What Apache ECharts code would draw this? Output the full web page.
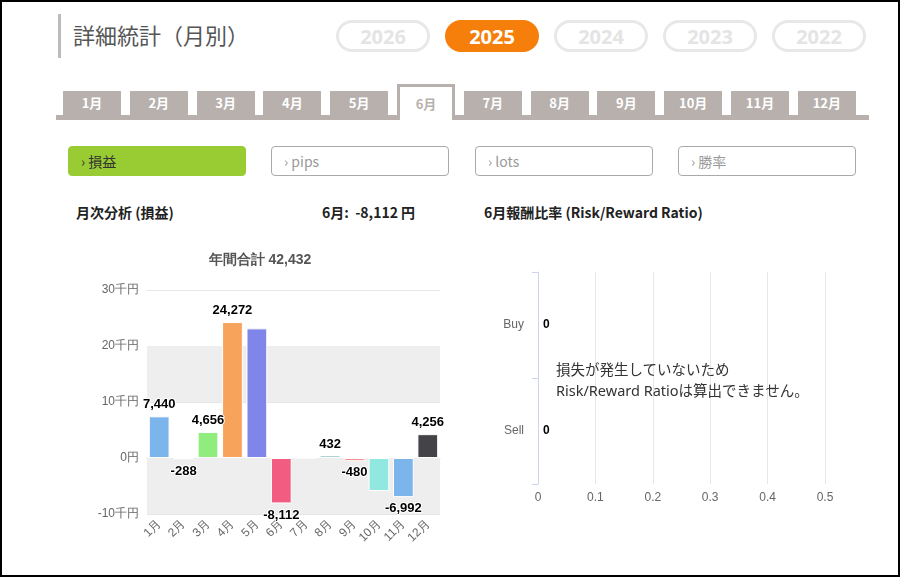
<!DOCTYPE html>
<html><head><meta charset="utf-8">
<script src="https://cdn.jsdelivr.net/npm/echarts@6/dist/echarts.min.js"></script>
<style>
body{margin:0;width:900px;height:577px;overflow:hidden;font-family:"Noto Sans CJK JP","Noto Sans",sans-serif;background:#fff}
#frame{position:absolute;left:0;top:0;width:896px;height:573px;border:2px solid #000}
.abs{position:absolute}
#title{left:58px;top:14px;height:44px;border-left:3px solid #bbb;padding-left:12px;font-size:22px;color:#555;line-height:40px}
.yr{position:absolute;top:20px;width:94px;height:32px;border:3px solid #e8e8e8;border-radius:18px;box-sizing:border-box;text-align:center;font:bold 20px/27px "Open Sans",sans-serif;color:#e4e4e4}
.yr.on{background:#f57f0a;border-color:#f57f0a;color:#fff}
.tab{position:absolute;top:91px;width:58px;height:24px;background:#b8b0ad;color:#fff;text-align:center;font-size:13px;line-height:24px;font-weight:bold}
.tab.on{background:#fff;color:#b8b0ad;top:84px;height:36px;border:3px solid #b8b0ad;border-bottom:none;box-sizing:border-box;line-height:34px}
.btn{position:absolute;top:146px;width:178px;height:30px;border:1px solid #aaa;border-radius:4px;box-sizing:border-box;font-size:14px;line-height:28px;color:#999;padding-left:12px}
.btn.on{background:#99cc33;border-color:#99cc33;color:#333}
.lbl{position:absolute;top:202px;font-size:14px;font-weight:bold;color:#222}
</style></head><body>
<div id="frame"></div>
<div id="title" class="abs">詳細統計（月別）</div>
<div id="years"></div>
<div class="abs" style="left:56px;top:115px;width:813px;height:5px;background:#b8b0ad"></div>
<div id="tabs"></div>
<div class="btn on" style="left:68px">› 損益</div>
<div class="btn" style="left:271px">› pips</div>
<div class="btn" style="left:475px">› lots</div>
<div class="btn" style="left:678px">› 勝率</div>
<div class="lbl" style="left:76px">月次分析 (損益)</div>
<div class="lbl" style="left:322px">6月:&nbsp; -8,112 円</div>
<div class="lbl" style="left:484px">6月報酬比率 (Risk/Reward Ratio)</div>
<div id="pl" class="abs" style="left:60px;top:240px;width:400px;height:330px"></div>
<div id="rr" class="abs" style="left:470px;top:240px;width:400px;height:290px"></div>
<div class="abs" style="left:556px;top:359px;font-size:14.5px;color:#333;line-height:21px;font-family:'Noto Sans','Noto Sans CJK JP',sans-serif">損失が発生していないため<br>Risk/Reward Ratioは算出できません。</div>
<script>
const years = ['2026', '2025', '2024', '2023', '2022'];
document.getElementById('years').innerHTML = years.map((y, i) =>
    `<div class="yr${y === '2025' ? ' on' : ''}" style="left:${336 + i * 109}px">${y}</div>`).join('');
const months = ['1月', '2月', '3月', '4月', '5月', '6月', '7月', '8月', '9月', '10月', '11月', '12月'];
document.getElementById('tabs').innerHTML = months.map((m, i) =>
    `<div class="tab${i === 5 ? ' on' : ''}" style="left:${63 + i * 66.8}px">${m}</div>`).join('');

const colors = ['#7cb5ec', '#434348', '#90ed7d', '#f7a35c', '#8085e9', '#f15c80',
    '#e4d354', '#2b908f', '#f45b5b', '#91e8e1', '#7cb5ec', '#434348'];
const profits = [7440, -288, 4656, 24272, 23152, -8112, 0, 432, -480, -5904, -6992, 4256];
const showLabel = [true, true, true, true, false, true, false, true, true, false, true, true];

const fmt = (v) => v.toLocaleString('en-US');
const pl = echarts.init(document.getElementById('pl'));
pl.setOption({
    animation: false,
    title: { text: '年間合計 42,432', left: 'center', top: 8, textStyle: { fontSize: 14, color: '#555', fontWeight: 'bold' } },
    grid: { left: 87, right: 20, top: 50, bottom: 56 },
    xAxis: {
        type: 'category', data: months,
        axisLine: { lineStyle: { color: '#ccd6eb' } }, axisTick: { show: false },
        axisLabel: { rotate: 45, color: '#666', fontSize: 12, interval: 0 },
    },
    yAxis: {
        type: 'value', min: -10000, max: 30000, interval: 10000,
        axisLabel: { color: '#666', fontSize: 12, formatter: (v) => (v === 0 ? '0円' : v / 1000 + '千円') },
        splitLine: { lineStyle: { color: '#e6e6e6' } },
    },
    series: [{
        type: 'bar', barWidth: '85%',
        data: profits.map((v, i) => ({
            value: v,
            itemStyle: { color: colors[i], borderColor: '#fff', borderWidth: 1 },
            label: {
                show: showLabel[i], position: v < 0 ? 'bottom' : 'top',
                formatter: () => fmt(v),
                fontWeight: 'bold', fontSize: 13, color: '#000',
                textBorderColor: '#fff', textBorderWidth: 2,
            },
        })),
        markArea: {
            silent: true, itemStyle: { color: '#eeeeee' },
            data: [[{ yAxis: 10000 }, { yAxis: 20000 }], [{ yAxis: -10000 }, { yAxis: 0 }]],
        },
    }],
});

const rr = echarts.init(document.getElementById('rr'));
rr.setOption({
    animation: false,
    grid: { left: 68, right: 45, top: 32, bottom: 46 },
    xAxis: {
        type: 'value', min: 0, max: 0.5, interval: 0.1,
        axisLabel: { color: '#666', fontSize: 12 },
        splitLine: { lineStyle: { color: '#e6e6e6' } },
    },
    yAxis: {
        type: 'category', data: ['Sell', 'Buy'],
        axisLine: { lineStyle: { color: '#ccd6eb' } },
        axisTick: { show: true, lineStyle: { color: '#ccd6eb' }, length: 6 },
        axisLabel: { color: '#666', fontSize: 12, margin: 14 },
    },
    series: [{
        type: 'bar', data: [0, 0],
        label: { show: true, position: 'right', fontWeight: 'bold', fontSize: 12, color: '#000' },
    }],
});
</script>
</body></html>
